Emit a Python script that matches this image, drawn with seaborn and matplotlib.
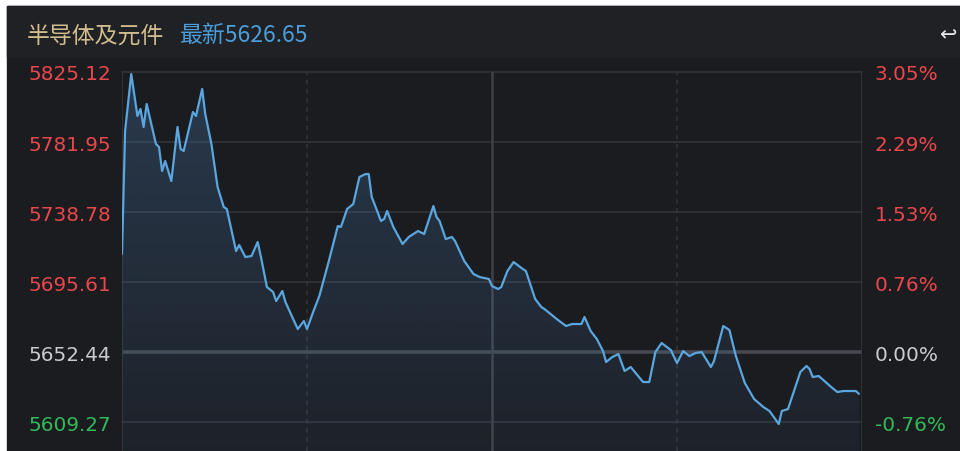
import numpy as np
import matplotlib
matplotlib.use("Agg")
import matplotlib.pyplot as plt
from matplotlib.patches import Rectangle, Polygon
from matplotlib.colors import to_rgb
import seaborn as sns

# 分时数据: 分钟序号 (0 = 9:30, 120 = 11:30/13:00, 240 = 15:00)
minutes = [0, 1, 3, 5, 6, 7, 8, 11, 12, 13, 14, 16, 18, 19, 20, 23, 24, 26, 27, 29,
           31, 33, 34, 37, 38, 40, 42, 44, 45, 47, 49, 50, 52, 53, 57, 59, 60, 62, 64, 67,
           70, 71, 73, 75, 77, 79, 80, 81, 84, 85, 86, 88, 91, 93, 96, 98, 101, 102, 103, 105,
           107, 108, 111, 114, 116, 119, 120, 122, 123, 125, 127, 130, 131, 134, 136, 137, 139, 141, 144, 146,
           149, 150, 152, 154, 156, 157, 159, 161, 163, 165, 169, 171, 173, 175, 178, 180, 182, 184, 186, 188,
           191, 192, 195, 197, 199, 202, 205, 208, 210, 213, 214, 216, 220, 222, 223, 224, 226, 230, 232, 234,
           238, 239]
prices = [5712.88, 5788.73, 5823.89, 5797.98, 5802.30, 5791.20, 5805.39, 5780.72, 5778.87, 5764.07,
          5770.23, 5757.90, 5791.20, 5777.63, 5776.40, 5800.45, 5797.98, 5814.64, 5799.22, 5780.72,
          5754.20, 5741.86, 5740.63, 5714.73, 5718.43, 5711.03, 5711.65, 5720.28, 5711.65, 5692.53,
          5689.44, 5683.89, 5690.06, 5683.28, 5666.63, 5671.56, 5666.63, 5677.11, 5686.98, 5707.95,
          5730.15, 5729.53, 5740.63, 5743.71, 5760.37, 5762.22, 5762.22, 5748.03, 5733.23, 5734.46,
          5739.40, 5729.53, 5719.05, 5723.36, 5727.06, 5725.21, 5742.48, 5735.70, 5733.23, 5722.13,
          5723.36, 5720.90, 5708.56, 5700.54, 5698.69, 5697.46, 5693.14, 5691.29, 5692.53, 5702.39,
          5707.95, 5703.63, 5702.39, 5685.13, 5680.19, 5678.96, 5675.88, 5672.79, 5668.48, 5669.71,
          5669.71, 5674.03, 5665.39, 5660.46, 5653.06, 5646.27, 5649.36, 5651.21, 5640.72, 5643.19,
          5633.94, 5633.94, 5652.44, 5657.99, 5653.67, 5645.66, 5653.06, 5649.97, 5651.82, 5652.44,
          5643.19, 5646.89, 5668.48, 5666.01, 5650.59, 5633.32, 5623.46, 5618.52, 5616.06, 5608.04,
          5616.06, 5617.29, 5640.11, 5643.81, 5641.96, 5637.02, 5637.64, 5630.86, 5627.77, 5628.39,
          5628.39, 5626.65]

name = "半导体及元件"
latest = 5626.65
prev_close = 5652.44
levels = [5825.12, 5781.95, 5738.78, 5695.61, 5652.44, 5609.27]

bg = "#1b1c20"
head_bg = "#1f2125"
grid_c = "#34363c"
line_c = "#5aa6de"
red = "#e8474b"
green = "#33b95a"
gray = "#c9cbcf"

sns.set_theme(style="dark")
plt.rcParams["font.family"] = ["DejaVu Sans", "Noto Sans CJK SC"]

fig = plt.figure(figsize=(9.6, 4.52), dpi=100, facecolor="white")
# 深色底 + 顶部标题栏
fig.patches.append(Rectangle((7 / 960, 0), 1, 1 - 7 / 452, transform=fig.transFigure,
                             color=bg, zorder=-10))
fig.patches.append(Rectangle((7 / 960, 1 - 58 / 452), 1, 51 / 452, transform=fig.transFigure,
                             color=head_bg, zorder=-9))

ax = fig.add_axes([122 / 960, 0, 740 / 960, (452 - 73) / 452])
ax.set_facecolor(bg)
ymin, ymax = 5591.4, levels[0]

# 网格
for lv in levels:
    if lv == prev_close:
        ax.axhline(lv, color="#45484f", lw=2.6, zorder=1)
    else:
        ax.axhline(lv, color=grid_c, lw=1.1, zorder=1, clip_on=False)
ax.axvline(0, color=grid_c, lw=1.2, zorder=1)
ax.axvline(240, color=grid_c, lw=1.2, zorder=1)
ax.axvline(120, color="#3e4047", lw=1.8, zorder=1)
ax.axvline(60, color=grid_c, lw=1.1, ls=(0, (3, 3)), zorder=1)
ax.axvline(180, color=grid_c, lw=1.1, ls=(0, (3, 3)), zorder=1)

# 渐变填充
poly = Polygon(list(zip(minutes, prices)) + [(minutes[-1], ymin), (minutes[0], ymin)],
               facecolor="none", edgecolor="none")
ax.add_patch(poly)
img = np.zeros((256, 1, 4))
img[..., :3] = to_rgb("#4d86c4")
img[..., 3] = np.linspace(0.28, 0.06, 256)[:, None]
ax.imshow(img, extent=[0, 240, ymin, ymax], aspect="auto", origin="upper",
          clip_path=poly, zorder=2)

sns.lineplot(x=minutes, y=prices, ax=ax, color=line_c, linewidth=1.6, zorder=3)

ax.set_xlim(0, 240)
ax.set_ylim(ymin, ymax)
ax.set_xticks([])
ax.set_xlabel("")
ax.set_ylabel("")

def lv_color(v):
    if abs(v - prev_close) < 0.005:
        return gray
    return red if v > prev_close else green

ax.set_yticks(levels)
ax.set_yticklabels([f"{v:.2f}" for v in levels])
ax.tick_params(axis="y", length=0, pad=8, labelsize=14.4)
for lbl, v in zip(ax.get_yticklabels(), levels):
    lbl.set_color(lv_color(v))

ax2 = ax.twinx()
ax2.set_ylim(ymin, ymax)
ax2.set_yticks(levels)
ax2.set_yticklabels([f"{(v - prev_close) / prev_close * 100:.2f}%" for v in levels])
ax2.tick_params(axis="y", length=0, pad=9, labelsize=14.4)
for lbl, v in zip(ax2.get_yticklabels(), levels):
    lbl.set_color(lv_color(v))
ax2.grid(False)

for a in (ax, ax2):
    for s in a.spines.values():
        s.set_visible(False)

# 标题
fig.text(27 / 960, 1 - 36 / 452, name, color="#d3bd8f", fontsize=16.5, va="center",
         family=["Noto Sans CJK SC", "DejaVu Sans"])
fig.text(180 / 960, 1 - 36 / 452, f"最新{latest:.2f}", color="#4a9edb", fontsize=16.5,
         va="center", family=["Noto Sans CJK SC", "DejaVu Sans"])
fig.text(948 / 960, 1 - 35 / 452, "↩", color="#e6e6e6", fontsize=15, va="center", ha="center")

fig.savefig("out.png", dpi=100, facecolor=fig.get_facecolor())
